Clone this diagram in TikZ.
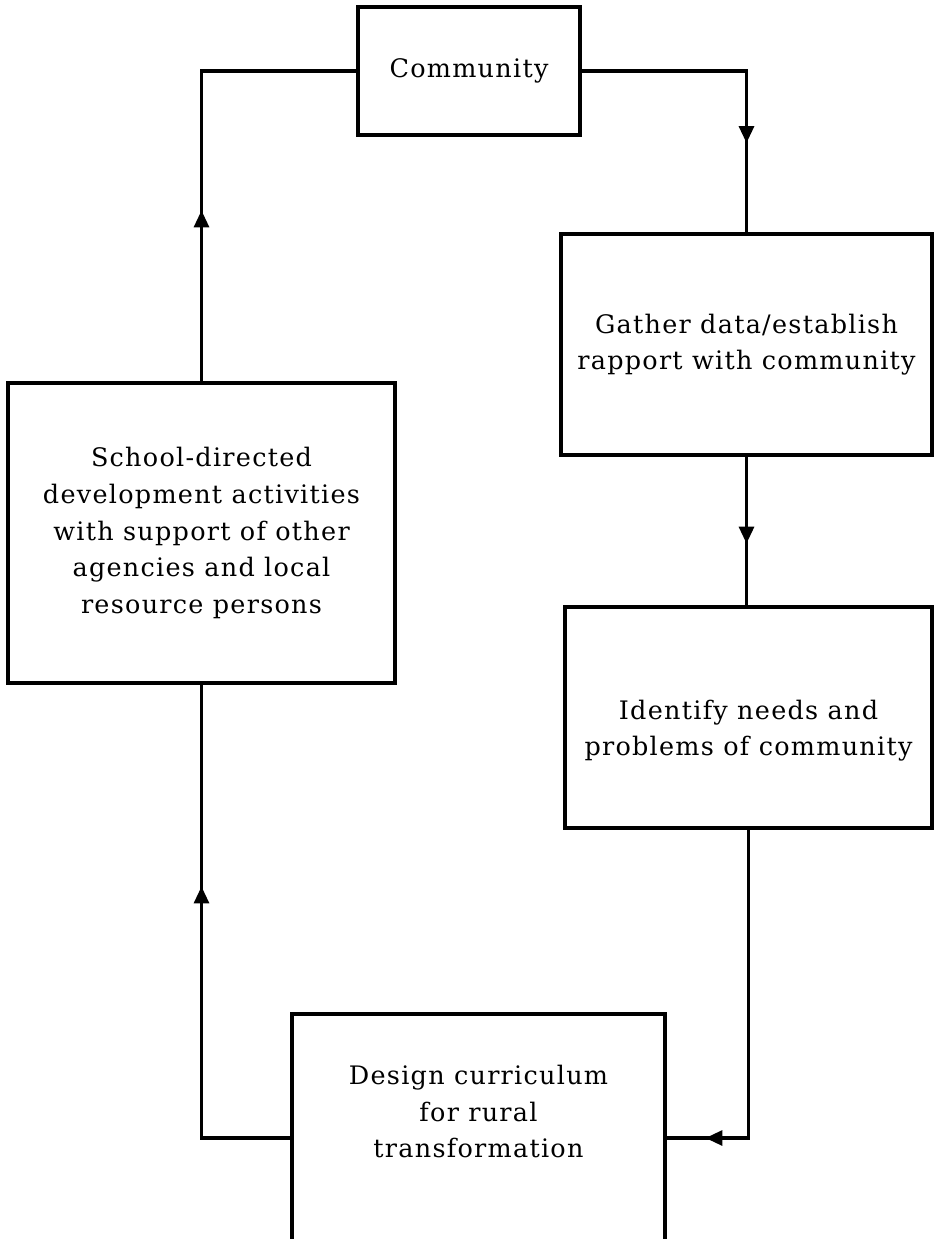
\documentclass[tikz,border=0pt]{standalone}
\usepackage{fontspec}
\setmainfont[LetterSpace=5]{DejaVu Serif}
\usetikzlibrary{arrows.meta,decorations.markings}
\tikzset{
	box/.style={draw,line width=0.065cm,align=center,inner sep=0pt,font=\fontsize{14.5}{20.8}\selectfont},
	flow/.style={line width=0.065cm},
	tipat/.style={postaction={decorate},decoration={markings,mark=at position #1 with {\arrow{Triangle[length=0.34cm,width=0.3cm]}}}}
}
\begin{document}
\begin{tikzpicture}[x=0.02cm,y=-0.02cm]
	\useasboundingbox (0,0) rectangle (933,1239);
	\node[box,minimum width=4.44cm,minimum height=2.56cm] (comm) at (469,71) {Community};
	\node[box,minimum width=7.42cm,minimum height=4.42cm] (gather) at (746.5,344.5) {Gather data/establish\\rapport with community};
	\node[box,minimum width=7.34cm,minimum height=4.42cm,text height=1.64cm] (identify) at (748.5,717.5) {Identify needs and\\problems of community};
	\node[box,minimum width=7.74cm,minimum height=6cm] (school) at (201.5,533) {School-directed\\development activities\\with support of other\\agencies and local\\resource persons};
	\node[box,minimum width=7.46cm,minimum height=4.96cm,text depth=1.06cm] (design) at (478.5,1138) {Design curriculum\\for rural\\transformation};
	\draw[flow,tipat=3.42cm] (school.north) |- (comm.west);
	\draw[flow,tipat=4.74cm] (comm.east) -| (gather.north);
	\draw[flow,tipat=1.74cm] (gather.south) -- (gather.south |- identify.north);
	\draw[flow,tipat=7.03cm] (identify.south) |- (design.east);
	\draw[flow,tipat=6.81cm] (design.west) -| (school.south);
\end{tikzpicture}
\end{document}
